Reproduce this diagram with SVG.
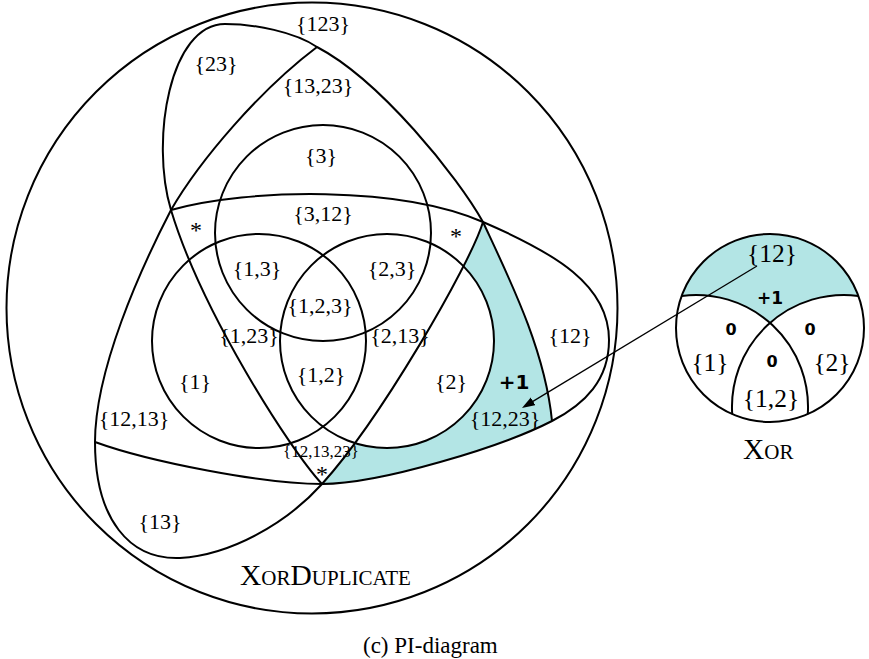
<svg xmlns="http://www.w3.org/2000/svg" width="869" height="659" viewBox="0 0 869 659">
  <style>
    .ln { fill: none; stroke: #000; stroke-width: 2; }
    .fill { fill: #b3e5e5; stroke: none; }
    .lbl { font-family: "Liberation Serif", "Times New Roman", serif; font-size: 22px; text-anchor: middle; fill: #000; }
    .sm { font-size: 17px; }
    .xl { font-size: 25.5px; }
    .star { font-size: 24px; }
    .val { font-family: "DejaVu Sans", Verdana, sans-serif; font-weight: bold; text-anchor: middle; fill: #000; }
    .title { font-family: "Liberation Serif", "Times New Roman", serif; font-variant: small-caps; font-size: 29.5px; fill: #000; }
    .cap { font-family: "Liberation Serif", "Times New Roman", serif; font-size: 23px; fill: #000; }
    .arrow { fill: none; stroke: #000; stroke-width: 1.3; }
  </style>
  <defs>
    <marker id="head" markerUnits="userSpaceOnUse" markerWidth="14" markerHeight="10" refX="7" refY="4.5" orient="auto">
      <path d="M0,0 L13,4.5 L0,9 Z" fill="#000"/>
    </marker>
    <!-- circle {2} is cut out of the shaded {12,23} band -->
    <mask id="cut2">
      <rect x="0" y="0" width="869" height="659" fill="#fff"/>
      <circle cx="387" cy="341" r="107" fill="#000"/>
    </mask>
  </defs>

  <!-- shaded regions -->
  <g id="shading">
    <path class="fill" mask="url(#cut2)" d="M322,484 C380,420 470,265 483,222 C510,280 545,350 552,421 C502.5,446.5 380,484 322,484 Z"/>
    <path class="fill" d="M681.7,295.9 A94,94 0 0 1 858.3,295.9 A112,112 0 0 0 770,322.9 A112,112 0 0 0 681.7,295.9 Z"/>
  </g>

  <!-- XorDuplicate PI-diagram -->
  <g id="region-123">
    <circle class="ln" cx="312" cy="308" r="305.5"/>
  </g>
  <g id="region-3">
    <circle class="ln" cx="323" cy="233" r="108"/>
  </g>
  <g id="region-1">
    <circle class="ln" cx="259" cy="341" r="107"/>
  </g>
  <g id="region-2">
    <circle class="ln" cx="387" cy="341" r="107"/>
  </g>
  <g id="region-12">
    <path class="ln" d="M171,210 C250,188 400,186 483,222 C555,253 609,285 609,340 C609,380 585,404 552,421 C502.5,446.5 380,484 322,484 C264,484 150,462 95,442"/>
  </g>
  <g id="region-13">
    <path class="ln" d="M483,222 C470,265 380,420 322,484 C286,524 230,555 180,558 C130,560 95,520 95,442 C95,370 140,270 171,210 C200,160 260,90 317,47"/>
  </g>
  <g id="region-23">
    <path class="ln" d="M322,484 C290,450 201,310 171,210 C150,140 170,24 225,24 C255,24 295,32 317,47 C380,80 458,177 483,222 C510,280 545,350 552,421"/>
  </g>

  <g id="labels-xorduplicate" class="lbl">
    <text x="323" y="31">{123}</text>
    <text x="216" y="71">{23}</text>
    <text x="318" y="93">{13,23}</text>
    <text x="321" y="163">{3}</text>
    <text x="323" y="221">{3,12}</text>
    <text x="257" y="276">{1,3}</text>
    <text x="392" y="276">{2,3}</text>
    <text x="320" y="313">{1,2,3}</text>
    <text x="249" y="343">{1,23}</text>
    <text x="400" y="343">{2,13}</text>
    <text x="321" y="382">{1,2}</text>
    <text x="195" y="389">{1}</text>
    <text x="451" y="389">{2}</text>
    <text x="570" y="343">{12}</text>
    <text x="505" y="426">{12,23}</text>
    <text x="134" y="426">{12,13}</text>
    <text x="160" y="529">{13}</text>
    <text class="sm" x="321" y="457">{12,13,23}</text>
    <text class="star" x="196" y="238">*</text>
    <text class="star" x="456" y="244">*</text>
    <text class="star" x="322" y="482">*</text>
  </g>
  <text class="val" x="514" y="389" font-size="20">+1</text>
  <text class="title" x="240" y="585">XorDuplicate</text>

  <!-- Xor PI-diagram -->
  <g id="xor">
    <circle class="ln" cx="770" cy="328" r="94"/>
    <path class="ln" d="M681.7,295.9 A112,112 0 0 1 807.8,414.1"/>
    <path class="ln" d="M858.3,295.9 A112,112 0 0 0 732.2,414.1"/>
    <g class="lbl xl">
      <text x="772" y="262">{12}</text>
      <text x="710" y="371">{1}</text>
      <text x="832" y="371">{2}</text>
      <text x="771" y="407">{1,2}</text>
    </g>
    <text class="val" x="770" y="304" font-size="17">+1</text>
    <text class="val" x="731" y="335" font-size="16">0</text>
    <text class="val" x="810" y="335" font-size="16">0</text>
    <text class="val" x="772" y="367" font-size="16">0</text>
  </g>
  <text class="title" x="743" y="459">Xor</text>

  <g id="connectors">
    <line class="arrow" x1="757" y1="266" x2="527.1" y2="404.9" marker-end="url(#head)"/>
  </g>

  <text class="cap" x="363" y="653">(c) PI-diagram</text>
</svg>
